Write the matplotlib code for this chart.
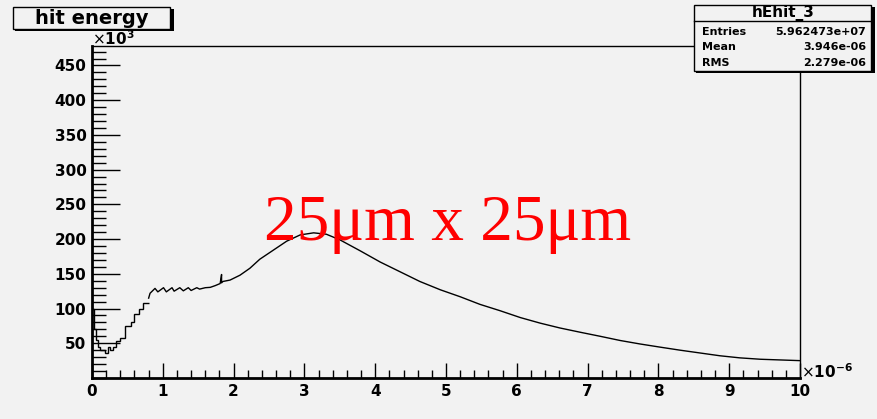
import matplotlib
matplotlib.use("Agg")
import matplotlib.pyplot as plt
from matplotlib.patches import Rectangle
from matplotlib.ticker import MultipleLocator, FixedLocator

# histogram: x in units of 1e-6, counts in units of 1e3
early_edges = [0.0, 0.03, 0.06, 0.09, 0.12, 0.18, 0.22, 0.26, 0.30, 0.34,
               0.40, 0.46, 0.55, 0.60, 0.66, 0.72, 0.80]
early_counts = [100, 70, 55, 45, 40, 36, 44, 40, 44, 53, 57, 75, 80, 92, 99, 108]

x_main = [0.80, 0.82, 0.89, 0.93, 1.01, 1.05, 1.13, 1.16, 1.24, 1.29, 1.36, 1.40,
          1.48, 1.52, 1.60, 1.67, 1.74, 1.81, 1.83, 1.83, 1.85, 1.95, 2.09, 2.23,
          2.37, 2.56, 2.75, 2.94, 3.13, 3.31, 3.50, 3.79, 4.07, 4.35, 4.63, 4.92,
          5.20, 5.48, 5.76, 6.05, 6.33, 6.61, 6.89, 7.18, 7.46, 7.74, 8.02, 8.31,
          8.59, 8.87, 9.15, 9.44, 9.72, 10.0]
y_main = [115, 122, 129, 124, 130, 124, 130, 125, 130, 125.5, 130, 126,
          130, 128, 130, 130.5, 133, 136, 149, 137, 139, 141, 148, 158,
          171, 184, 197, 206, 209, 207, 199, 183, 167, 153, 139, 127,
          117, 106, 97, 87, 79, 72, 66, 60, 54, 49, 44.5, 40,
          36, 32, 29, 27, 26, 25]

y_ticks = [50, 100, 150, 200, 250, 300, 350, 400, 450]
x_ticks = list(range(0, 11))

stats_title = "hEhit_3"
stats_rows = [("Entries", "5.962473e+07"), ("Mean", "3.946e-06"), ("RMS", "2.279e-06")]

W, H = 878, 419
bg = "#f2f2f2"


def fx(px):
    return px / W


def fy(py):
    return (H - py) / H


fig = plt.figure(figsize=(W / 100, H / 100), dpi=100, facecolor=bg)
ax = fig.add_axes([fx(92), fy(378), fx(800) - fx(92), fy(46) - fy(378)])
ax.set_facecolor(bg)

ax.stairs(early_counts, early_edges, baseline=None, color="black", linewidth=1)
ax.plot(x_main, y_main, color="black", linewidth=1)

ax.set_xlim(0, 10)
ax.set_ylim(0, 478)

for side in ["left", "bottom"]:
    ax.spines[side].set_linewidth(2)
for side in ["top", "right"]:
    ax.spines[side].set_linewidth(1)

ax.xaxis.set_major_locator(FixedLocator(x_ticks))
ax.xaxis.set_minor_locator(MultipleLocator(0.2))
ax.yaxis.set_major_locator(FixedLocator(y_ticks))
ax.yaxis.set_minor_locator(MultipleLocator(10))
ax.tick_params(axis="y", which="major", direction="in", length=20, width=1, pad=4)
ax.tick_params(axis="y", which="minor", direction="in", length=10, width=1)
ax.tick_params(axis="x", which="major", direction="in", length=11, width=1, pad=4)
ax.tick_params(axis="x", which="minor", direction="in", length=6, width=1)
ax.set_xticklabels([str(v) for v in x_ticks], fontsize=11, fontweight="bold")
ax.set_yticklabels([str(v) for v in y_ticks], fontsize=11, fontweight="bold")

# axis exponents
fig.text(fx(92), fy(45), r"$\times\mathbf{10^{3}}$", fontsize=11, ha="left", va="baseline")
fig.text(fx(801), fy(378), r"$\times\mathbf{10^{-6}}$", fontsize=11, ha="left", va="baseline")

# title pave with shadow
fig.patches.append(Rectangle((fx(15), fy(31)), fx(172) - fx(13), fy(7) - fy(29),
                             transform=fig.transFigure, facecolor="black", edgecolor="none"))
fig.patches.append(Rectangle((fx(13), fy(29)), fx(170) - fx(13), fy(7) - fy(29),
                             transform=fig.transFigure, facecolor=bg, edgecolor="black", linewidth=1))
fig.text(fx(92), fy(18), "hit energy", fontsize=14, fontweight="bold",
         ha="center", va="center")

# stats box with shadow
fig.patches.append(Rectangle((fx(696), fy(73)), fx(873) - fx(694), fy(5) - fy(71),
                             transform=fig.transFigure, facecolor="black", edgecolor="none"))
fig.patches.append(Rectangle((fx(694), fy(71)), fx(871) - fx(694), fy(5) - fy(71),
                             transform=fig.transFigure, facecolor=bg, edgecolor="black", linewidth=1))
fig.add_artist(plt.Line2D([fx(694), fx(871)], [fy(21), fy(21)], transform=fig.transFigure,
                          color="black", linewidth=1))
fig.text(fx(783), fy(13), stats_title, fontsize=11, fontweight="bold", ha="center", va="center")
for i, (lab, val) in enumerate(stats_rows):
    yy = fy(32 + i * 15.5)
    fig.text(fx(702), yy, lab, fontsize=8, fontweight="bold", ha="left", va="center")
    fig.text(fx(866), yy, val, fontsize=8, fontweight="bold", ha="right", va="center")

fig.text(fx(448), fy(240), "25\u03bcm x 25\u03bcm", color="red", fontsize=47,
         family="Liberation Serif", ha="center", va="baseline")

fig.savefig("out.png", dpi=100, facecolor=bg)
